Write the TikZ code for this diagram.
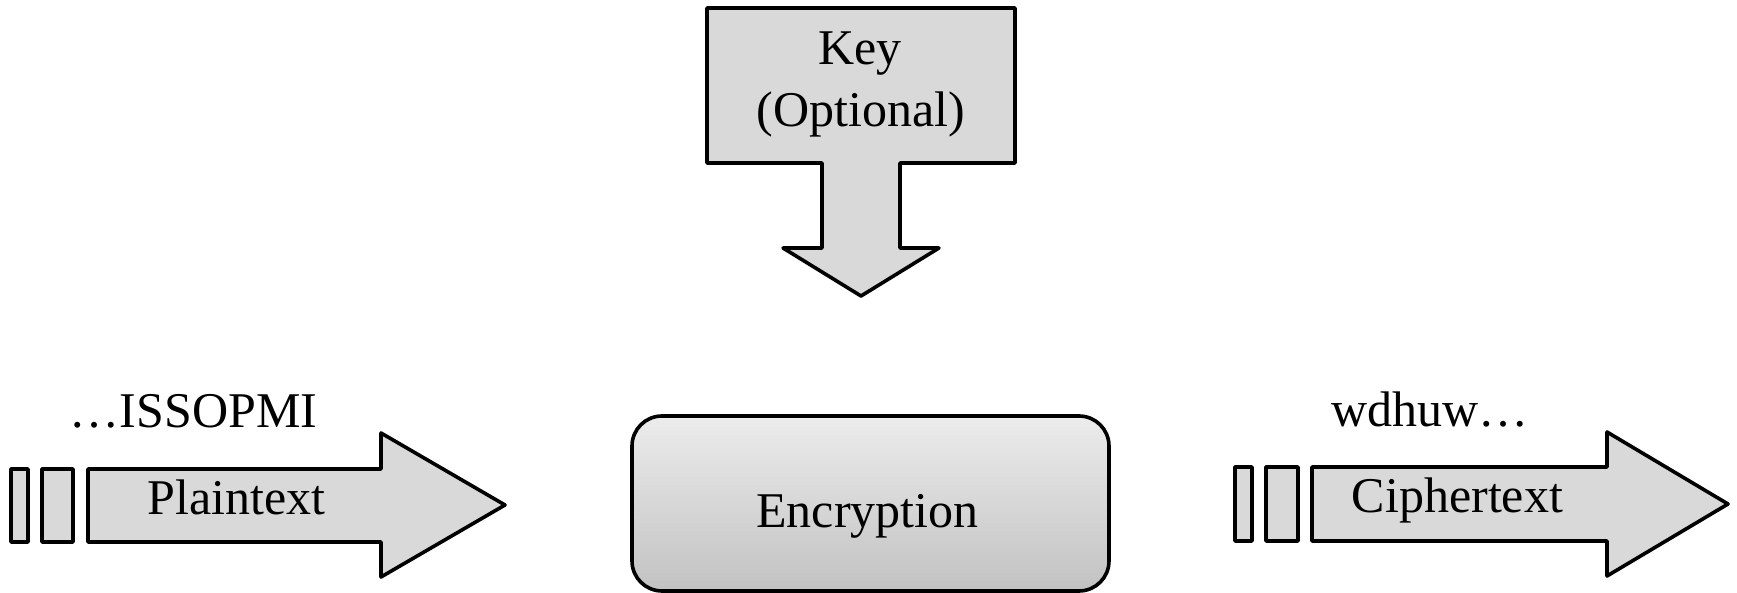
\documentclass[tikz,border=0pt]{standalone}
\usepackage{fontspec}
\setmainfont{Liberation Serif}
\definecolor{arrowfill}{RGB}{217,217,217}
\definecolor{enctop}{RGB}{236,236,236}
\definecolor{encbot}{RGB}{194,194,194}
\tikzset{
  px/.style={x=0.5pt,y=-0.5pt},
  shapeline/.style={draw=black,line width=1.8pt,line join=round,fill=arrowfill},
  lbl/.style={inner sep=0pt,anchor=base,font=\fontsize{25pt}{30pt}\selectfont}
}
\begin{document}
\begin{tikzpicture}[px]
\useasboundingbox (0,0) rectangle (1737,593);
% Key arrow
\draw[shapeline] (707,8) -- (1015,8) -- (1015,163) -- (900,163) -- (900,248) -- (939,248)
  -- (861,296) -- (783,248) -- (822,248) -- (822,163) -- (707,163) -- cycle;
\node[lbl] (key) at (860,65) {Key};
\node[lbl] (opt) at (861,127) {(Optional)};
% Plaintext
\draw[shapeline] (11,469) rectangle (28,542);
\draw[shapeline] (42,469) rectangle (73,542);
\draw[shapeline] (88,469) -- (381,469) -- (381,433) -- (505,505) -- (381,577) -- (381,542) -- (88,542) -- cycle;
\node[lbl] (ptxt) at (193.5,428) {…ISSOPMI};
\node[lbl] (plab) at (236.5,515) {Plaintext};
% Encryption
\path[draw=black,line width=1.8pt,rounded corners=15pt,top color=enctop,bottom color=encbot]
  (632,416) rectangle (1109,591);
\node[lbl] (enc) at (867.5,528) {Encryption};
% Ciphertext
\draw[shapeline] (1235,467) rectangle (1252,541);
\draw[shapeline] (1266,467) rectangle (1298,541);
\draw[shapeline] (1312,467) -- (1607,467) -- (1607,432) -- (1728,504) -- (1607,576) -- (1607,541) -- (1312,541) -- cycle;
\node[lbl] (ctxt) at (1430,427) {wdhuw…};
\node[lbl] (clab) at (1457.5,513) {Ciphertext};
\end{tikzpicture}
\end{document}
